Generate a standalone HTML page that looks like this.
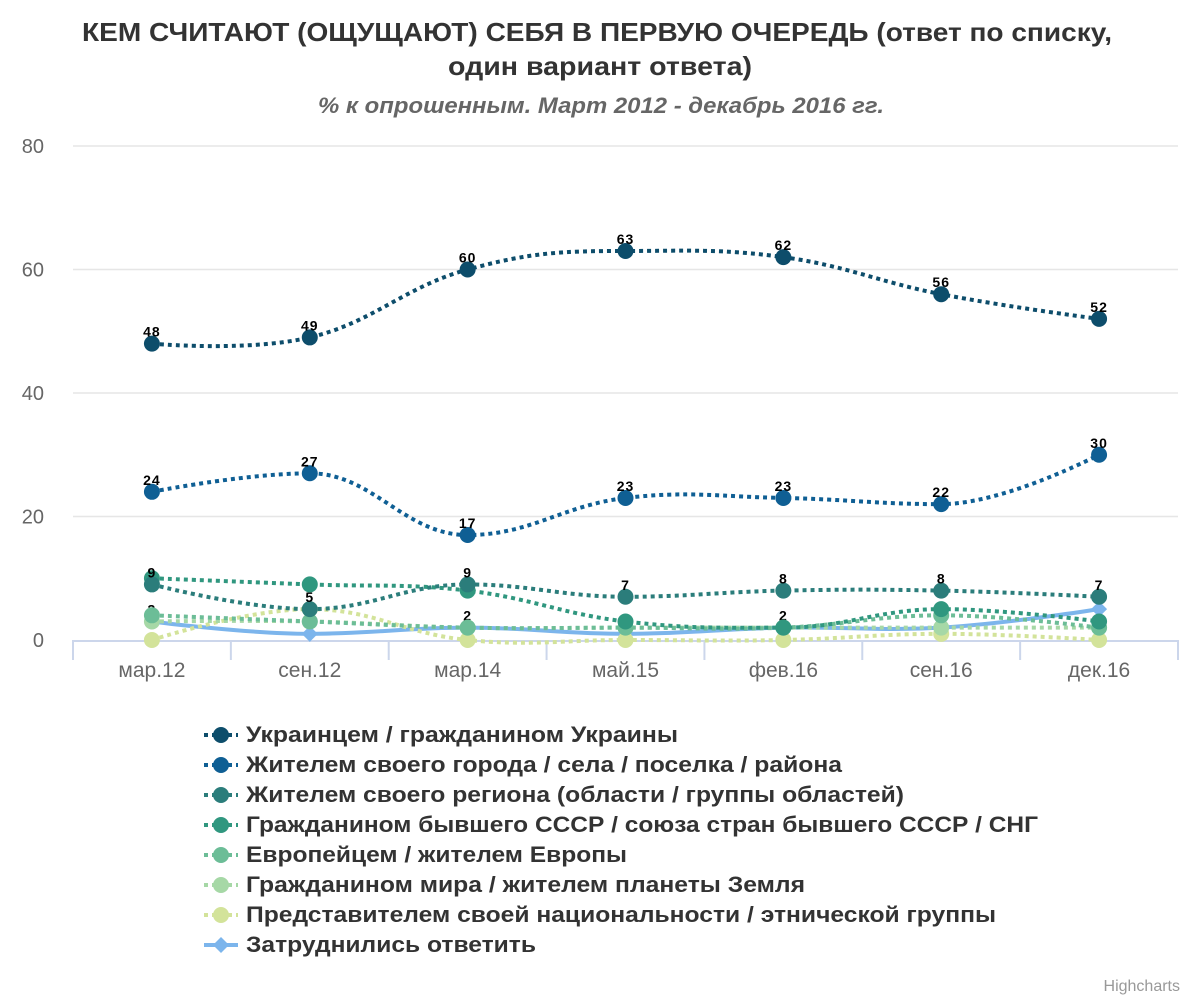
<!DOCTYPE html>
<html><head><meta charset="utf-8"><style>
body{margin:0;background:#fff;font-family:"Liberation Sans",sans-serif}
svg text{font-family:"Liberation Sans",sans-serif}
</style></head><body>
<svg id="c" width="1200" height="1000">
<text x="597" y="41" text-anchor="middle" font-size="26" font-weight="bold" fill="#333" textLength="1030" lengthAdjust="spacingAndGlyphs">КЕМ СЧИТАЮТ (ОЩУЩАЮТ) СЕБЯ В ПЕРВУЮ ОЧЕРЕДЬ (ответ по списку,</text>
<text x="600" y="75" text-anchor="middle" font-size="26" font-weight="bold" fill="#333" textLength="304" lengthAdjust="spacingAndGlyphs">один вариант ответа)</text>
<text x="601" y="113" text-anchor="middle" font-size="22" font-weight="bold" font-style="italic" fill="#666" textLength="566" lengthAdjust="spacingAndGlyphs">% к опрошенным. Март 2012 - декабрь 2016 гг.</text>
<g id="grid"></g><g id="series"></g><g id="legend"></g>
<text x="1180" y="991" text-anchor="end" font-size="16" fill="#999">Highcharts</text>
</svg>
<script>
const categories=["мар.12","сен.12","мар.14","май.15","фев.16","сен.16","дек.16"];
const yTicks=[0,20,40,60,80];
const seriesNames=["Украинцем / гражданином Украины","Жителем своего города / села / поселка / района","Жителем своего региона (области / группы областей)","Гражданином бывшего СССР / союза стран бывшего СССР / СНГ","Европейцем / жителем Европы","Гражданином мира / жителем планеты Земля","Представителем своей национальности / этнической группы","Затруднились ответить"];
const legendWidths=[432,596,658,792,381,559,750,290];
const s1=[48,49,60,63,62,56,52];
const s2=[24,27,17,23,23,22,30];
const s3=[9,5,9,7,8,8,7];
const s4=[10,9,8,3,2,5,3];
const s5=[4,3,2,2,2,4,2];
const s6=[3,3,2,2,2,2,2];
const s7=[0,5,0,0,0,1,0];
const s8=[3,1,2,1,2,2,5];
const colors=["#0d4d6b","#0f5f94","#2b7d7b","#30977f","#6cbd97","#a6d8a6","#d3e39a","#7cb5ec"];
const values=[s1,s2,s3,s4,s5,s6,s7,s8];
const labelSeries=[0,1,2,7];
const L=73,R=1178,T=146,B=640,max=80;
const xs=i=>L+(R-L)/categories.length*(i+0.5);
const ys=v=>B-(B-T)*v/max;
const NS="http://www.w3.org/2000/svg";
function mk(t,a,p){const e=document.createElementNS(NS,t);for(const k in a)e.setAttribute(k,a[k]);p.appendChild(e);return e;}
const grid=document.getElementById('grid');
yTicks.forEach(v=>{
 if(v>0){const g=mk('line',{x1:L,x2:R,y1:ys(v),y2:ys(v),stroke:'#e6e6e6','stroke-width':1.5},grid);
 
 }
 const t=mk('text',{x:44,y:ys(v)+7,'text-anchor':'end','font-size':20,fill:'#666'},grid);t.textContent=v;
 
 
});
const ax=mk('line',{x1:L,x2:R,y1:B+1,y2:B+1,stroke:'#ccd6eb','stroke-width':2},grid);


for(let i=0;i<=categories.length;i++){const x=L+(R-L)/categories.length*i;const tk=mk('line',{x1:x,x2:x,y1:B,y2:B+20,stroke:'#ccd6eb','stroke-width':2},grid);
 
 }
categories.forEach((c,i)=>{const t=mk('text',{x:xs(i),y:677,'text-anchor':'middle','font-size':21,fill:'#666'},grid);t.textContent=c;
 
 });
function spline(p){let d='M'+p[0][0]+','+p[0][1];const sm=1.5,dn=sm+1;
 for(let i=1;i<p.length;i++){
  const prev=p[i-1],cur=p[i];
  let c1x=prev[0],c1y=prev[1],c2x=cur[0],c2y=cur[1];
  if(i-1>0){const a=p[i-2];const lx=(sm*prev[0]+a[0])/dn,ly=(sm*prev[1]+a[1])/dn,rx=(sm*prev[0]+cur[0])/dn,ry=(sm*prev[1]+cur[1])/dn;let cy=ry;if(!((ly>prev[1]&&ry>prev[1])||(ly<prev[1]&&ry<prev[1]))){const cc=((ry-ly)*(rx-prev[0]))/(rx-lx)+prev[1]-ry;cy=ry+cc;}else cy=prev[1];c1x=rx;c1y=cy;}
  if(i<p.length-1){const n=p[i+1];const lx=(sm*cur[0]+prev[0])/dn,ly=(sm*cur[1]+prev[1])/dn,rx=(sm*cur[0]+n[0])/dn,ry=(sm*cur[1]+n[1])/dn;let cy=ly;if(!((ly>cur[1]&&ry>cur[1])||(ly<cur[1]&&ry<cur[1]))){const cc=((ry-ly)*(lx-cur[0]))/(rx-lx)+cur[1]-ly;cy=ly+cc;}else cy=cur[1];c2x=lx;c2y=cy;}
  d+=' C'+c1x+','+c1y+' '+c2x+','+c2y+' '+cur[0]+','+cur[1];}
 return d;}
const sg=document.getElementById('series');
for(let s=values.length-1;s>=0;s--){
 const g=mk('g',{},sg);
 
 
 const pts=values[s].map((v,i)=>[xs(i),ys(v)]);
 const dashed=s<7;
 const path=mk('path',{d:spline(pts),fill:'none',stroke:colors[s],'stroke-width':4,'stroke-dasharray':dashed?'4,4':'none'},g);
 
 
 pts.forEach((p,i)=>{
  let m;
  if(s===7){m=mk('path',{d:`M${p[0]},${p[1]-8}L${p[0]+8},${p[1]}L${p[0]},${p[1]+8}L${p[0]-8},${p[1]}Z`,fill:colors[s]},g);}
  else m=mk('circle',{cx:p[0],cy:p[1],r:8,fill:colors[s]},g);
  
  
  if(labelSeries.includes(s)){const t=mk('text',{x:p[0],y:p[1]-7,'text-anchor':'middle','font-size':14,'font-weight':'bold','letter-spacing':'1',fill:'#000'},g);t.textContent=values[s][i];
   
   }
 });
}
const lg=document.getElementById('legend');
seriesNames.forEach((n,s)=>{
 const y=735+s*30;
 const g=mk('g',{},lg);
 
 
 mk('line',{x1:204,x2:238,y1:y,y2:y,stroke:colors[s],'stroke-width':4,'stroke-dasharray':s<7?'4,4':'none'},g);
 if(s===7)mk('path',{d:`M221,${y-8}L229,${y}L221,${y+8}L213,${y}Z`,fill:colors[s]},g);
 else mk('circle',{cx:221,cy:y,r:8,fill:colors[s]},g);
 const t=mk('text',{x:246,y:y+7,'font-size':22,'font-weight':'bold',fill:'#333',textLength:legendWidths[s],lengthAdjust:'spacingAndGlyphs'},g);t.textContent=n;
});
</script>
</body></html>
